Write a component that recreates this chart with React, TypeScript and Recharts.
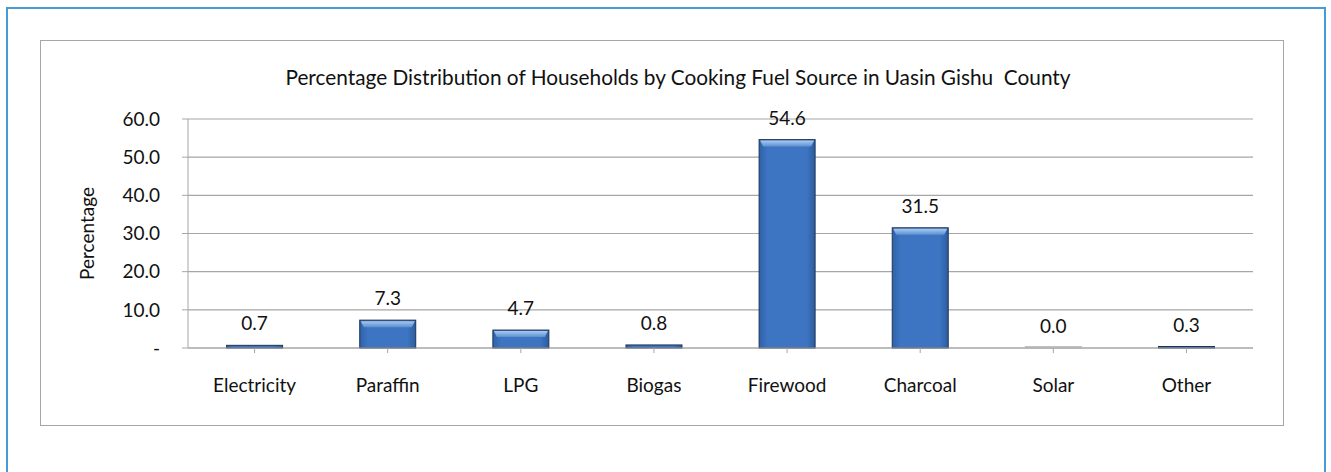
import React from 'react';
import { BarChart, Bar, XAxis, YAxis, CartesianGrid, LabelList } from 'recharts';

const fuels = ['Electricity', 'Paraffin', 'LPG', 'Biogas', 'Firewood', 'Charcoal', 'Solar', 'Other'];
const shares = [0.7, 7.3, 4.7, 0.8, 54.6, 31.5, 0.0, 0.3];
const yTicks = [0, 10, 20, 30, 40, 50, 60];

const chartData = fuels.map((fuel, i) => ({ fuel, pct: shares[i] }));

const FONT = 'Lato, "Open Sans", sans-serif';

// bevelled bar like the excel style
const BevelBar = (props: any) => {
  const { x, y, width, height, value } = props;
  if (width == null || height == null) return null;
  const h = Math.max(height, 1.5);
  const top = y + height - h;
  const bev = Math.min(7, h / 2);
  const empty = Number(value) === 0;
  return (
    <g>
      <rect
        x={x}
        y={top}
        width={width}
        height={h}
        fill={empty ? '#c8c8c8' : 'url(#barFill)'}
        stroke={empty ? '#c0c0c0' : '#1d3557'}
        strokeWidth={1}
      />
      {h > 4 && (
        <polygon
          points={`${x + 1},${top + 1} ${x + width - 1},${top + 1} ${x + width - 4},${top + bev} ${x + 4},${top + bev}`}
          fill="url(#bevelFill)"
        />
      )}
    </g>
  );
};

const yFormat = (v: number) => (v === 0 ? '-' : v.toFixed(1));

export default function App() {
  return (
    <div style={{ position: 'absolute', left: 0, top: 0, width: 1331, height: 472, background: '#fff', fontFamily: FONT }}>
      <div style={{ position: 'absolute', left: 6, top: 7, width: 1320, height: 480, border: '2px solid #4a9ad4', boxSizing: 'border-box' }} />
      <div style={{ position: 'absolute', left: 40, top: 40, width: 1244, height: 386, border: '1.5px solid #a6a6a6', boxSizing: 'border-box' }} />
      <div style={{ position: 'absolute', left: 0, top: 64, width: 1356, textAlign: 'center', fontSize: 20.8, color: '#111' }}>
        Percentage Distribution of Households by Cooking Fuel Source in Uasin Gishu&nbsp; County
      </div>
      <div style={{ position: 'absolute', left: 0, top: 0 }}>
        <BarChart width={1331} height={472} data={chartData} margin={{ top: 119, right: 78, bottom: 94, left: 58 }} barCategoryGap="29%">
          <defs>
            <linearGradient id="barFill" x1="0" y1="0" x2="1" y2="0">
              <stop offset="0%" stopColor="#2f62a8" />
              <stop offset="15%" stopColor="#3d75c2" />
              <stop offset="85%" stopColor="#3d75c2" />
              <stop offset="100%" stopColor="#2c5c9e" />
            </linearGradient>
            <linearGradient id="bevelFill" x1="0" y1="0" x2="0" y2="1">
              <stop offset="0%" stopColor="#a9c9ef" />
              <stop offset="100%" stopColor="#5b8fd2" />
            </linearGradient>
          </defs>
          <CartesianGrid vertical={false} stroke="#a6a6a6" strokeWidth={1.2} />
          <XAxis
            dataKey="fuel"
            stroke="#a6a6a6"
            tickSize={5}
            tick={{ fill: '#111', fontSize: 19, fontFamily: FONT }}
            dy={24}
            height={30}
          />
          <YAxis
            domain={[0, 60]}
            ticks={yTicks}
            tickFormatter={yFormat}
            stroke="#a6a6a6"
            tickSize={6}
            width={130}
            tick={{ fill: '#111', fontSize: 19, fontFamily: FONT }}
            dx={-20}
            label={{ value: 'Percentage', angle: -90, position: 'insideLeft', offset: 29, style: { fill: '#111', fontSize: 19, fontFamily: FONT, textAnchor: 'middle' } }}
          />
          <Bar dataKey="pct" shape={BevelBar} isAnimationActive={false}>
            <LabelList dataKey="pct" position="top" offset={15} formatter={(v: any) => Number(v).toFixed(1)} style={{ fill: '#111', fontSize: 19, fontFamily: FONT }} />
          </Bar>
        </BarChart>
      </div>
    </div>
  );
}
